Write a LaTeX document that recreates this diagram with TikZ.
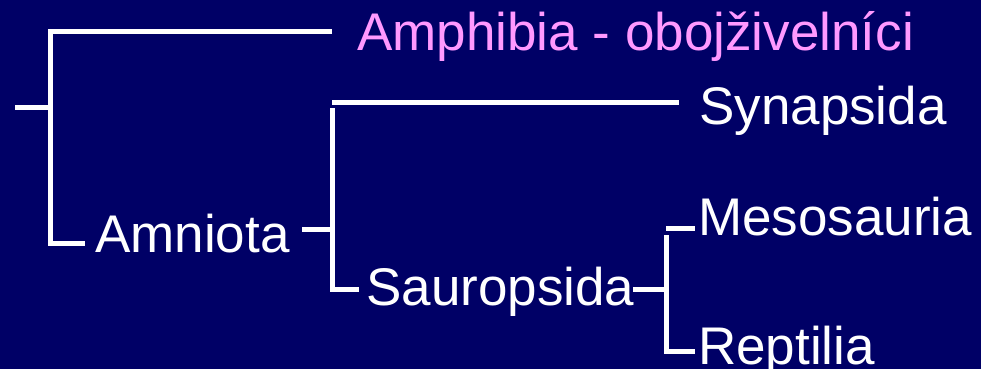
\documentclass[tikz,border=0pt]{standalone}
\usepackage{fontspec}
\setmainfont{Liberation Sans}
\usetikzlibrary{positioning}
\definecolor{CladeNavy}{HTML}{000066}
\definecolor{CladePink}{HTML}{FF99FF}
\definecolor{CladeWhite}{HTML}{FFFFFF}

\begin{document}
\begin{tikzpicture}[x=1pt,y=-1pt,
    branch/.style={CladeWhite, line width=5pt},
    taxon/.style={anchor=base west, inner sep=0pt, text=CladeWhite,
      font=\fontsize{53}{60}\selectfont}]
    \fill[CladeNavy] (0,0) rectangle (981,369);
    \useasboundingbox (0,0) rectangle (981,369);
    % taxa
    \node[taxon, text=CladePink] (amph) at (357,50) {Amphibia - obojživelníci};
    \node[taxon] (amn) at (95,252) {Amniota};
    \node[taxon] (syn) at (699,124) {Synapsida};
    \node[taxon] (saur) at (366,305) {Sauropsida};
    \node[taxon] (meso) at (698,235) {Mesosauria};
    \node[taxon] (rept) at (698,364) {Reptilia};
    % branch ends
    \coordinate (root) at (15,107);
    \coordinate (fork0) at (50,107);
    \coordinate (amphtip) at (332,32);
    \coordinate (amntip) at (85,243);
    \coordinate (amnstub) at (302,229);
    \coordinate (fork1) at (332,229);
    \coordinate (synfork) at (332,102);
    \coordinate (syntip) at (679,102);
    \coordinate (fork1top) at (332,108);
    \coordinate (saurtip) at (359,289);
    \coordinate (saurstub) at (633,289);
    \coordinate (fork2) at (666,289);
    \coordinate (mesofork) at (666,228);
    \coordinate (mesotip) at (695,228);
    \coordinate (fork2top) at (666,235);
    \coordinate (repttip) at (695,351);
    % tree
    \draw[branch] (root) -- (fork0);
    \draw[branch] (amphtip) -| (fork0) |- (amntip);
    \draw[branch] (amnstub) -- (fork1);
    \draw[branch] (synfork) -- (syntip);
    \draw[branch] (fork1top) |- (saurtip);
    \draw[branch] (saurstub) -- (fork2);
    \draw[branch] (mesofork) -- (mesotip);
    \draw[branch] (fork2top) |- (repttip);
  \end{tikzpicture}
\end{document}
